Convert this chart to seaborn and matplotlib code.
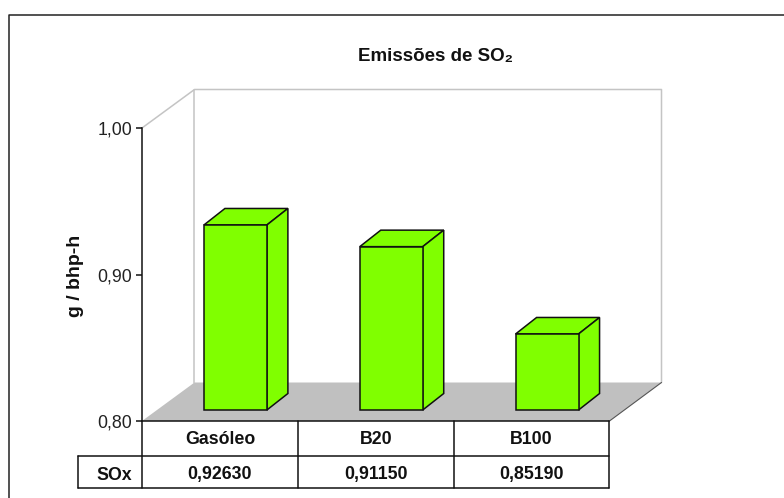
import matplotlib
matplotlib.use("Agg")
import matplotlib.pyplot as plt
from matplotlib.patches import Polygon
from matplotlib.transforms import Affine2D, IdentityTransform
import numpy as np
import pandas as pd
import seaborn as sns

categories = ["Gasóleo", "B20", "B100"]
values = [0.92630, 0.91150, 0.85190]
row_name = "SOx"
y_ticks = [0.80, 0.90, 1.00]
title = "Emissões de SO₂"
y_title = "g / bhp-h"

W, H = 784, 498
GREEN = "#80ff00"
WALL = "#c4c4c4"
INK = "#111111"
BOLD = "Liberation Sans"
TABLE_SIZE = 12.8

sns.set_theme(style="white")
plt.rcParams["font.family"] = [BOLD, "DejaVu Sans"]

fig = plt.figure(figsize=(W / 100, H / 100), dpi=100, facecolor="white")

# Pixel-space layer for the frame, back wall, floor and data table rules
canvas = fig.add_axes([0, 0, 1, 1], zorder=0)
canvas.set_xlim(0, W)
canvas.set_ylim(H, 0)
canvas.axis("off")

L, R, TOP, BASE = 142, 609.5, 128, 421
canvas.plot([9.5, 9.5, W], [H, 14.5, 14.5], color="#222222", lw=1.1)
canvas.add_patch(Polygon([(L, BASE), (194.5, 382.5), (661.5, 382.5), (R, BASE)],
                         closed=True, fc="#c0c0c0", ec="none"))
canvas.plot([L, 194.5, 661.5, 661.5], [TOP, 89.5, 89.5, 382.5], color=WALL, lw=1.1)
canvas.plot([194.5, 194.5], [89.5, 382.5], color=WALL, lw=1.1)
canvas.plot([R, 661.5], [BASE, 382.5], color="#555555", lw=0.8)

row_top, row_mid, row_bot = BASE, 455.5, 488
canvas.plot([L, R], [row_top, row_top], color=INK, lw=1.1)
canvas.plot([78, R], [row_mid, row_mid], color=INK, lw=1.1)
canvas.plot([78, R], [row_bot, row_bot], color=INK, lw=1.1)
canvas.plot([78, 78], [row_mid, row_bot], color=INK, lw=1.1)
cell = (R - L) / len(categories)
for i in range(len(categories) + 1):
    x = L + i * cell
    canvas.plot([x, x], [row_top, row_bot], color=INK, lw=1.1)

# Bars live in a data axes whose span is the front plane of the 3D box
ax = fig.add_axes([L / W, 1 - BASE / H, (R - L) / W, (BASE - TOP) / H], zorder=1)
ax.patch.set_alpha(0)
data = pd.DataFrame({"combustivel": categories, "sox": values})
sns.barplot(data=data, x="combustivel", y="sox", color=GREEN, saturation=1,
            width=0.404, edgecolor=INK, linewidth=1.1, ax=ax)
ax.set_xlim(-0.5, len(categories) - 0.5)
ax.set_ylim(min(y_ticks), max(y_ticks))
ax.set_xlabel("")
ax.set_ylabel("")

# Bars stand part-way back on the floor; the side and top faces recede further
front_dx, front_dy = 15.5, 11
depth_dx, depth_dy = 21, 16.5
shift = Affine2D().translate(front_dx, front_dy)
baseline = min(y_ticks)
for bar, value in zip(ax.patches, values):
    # The value axis starts above zero, so each bar rises from the axis floor
    bar.set_y(baseline)
    bar.set_height(value - baseline)
    bar.set_transform(ax.transData + shift)
    bar.set_clip_on(False)
    bar.set_zorder(3)
    x0, x1 = bar.get_x(), bar.get_x() + bar.get_width()
    (px0, py0), (px1, py1) = (ax.transData + shift).transform([(x0, baseline), (x1, value)])
    top_face = [(px0, py1), (px1, py1), (px1 + depth_dx, py1 + depth_dy), (px0 + depth_dx, py1 + depth_dy)]
    side_face = [(px1, py0), (px1, py1), (px1 + depth_dx, py1 + depth_dy), (px1 + depth_dx, py0 + depth_dy)]
    for face in (top_face, side_face):
        ax.add_patch(Polygon(face, closed=True, fc=GREEN, ec=INK, lw=1.1,
                             transform=IdentityTransform(), clip_on=False, zorder=2))

# Value axis on the left, comma decimals; categories sit in the table's first row
for name in ("top", "right", "bottom"):
    ax.spines[name].set_visible(False)
ax.spines["left"].set_color(INK)
ax.spines["left"].set_linewidth(1.1)
ax.set_yticks(y_ticks, [f"{v:.2f}".replace(".", ",") for v in y_ticks])
ax.tick_params(axis="y", left=True, length=4, width=1.1, color=INK, pad=3,
               labelsize=12.8, labelcolor="#222222")
ax.set_xticks(range(len(categories)), categories)
ax.tick_params(axis="x", bottom=False, pad=1, labelsize=TABLE_SIZE, labelcolor=INK)
for label in ax.get_xticklabels():
    label.set_fontweight("bold")

# Second table row holds the series values
for i, v in enumerate(values):
    canvas.text(L + (i + 0.5) * cell, 474.5, f"{v:.5f}".replace(".", ","), ha="center", va="center",
                fontsize=TABLE_SIZE, fontweight="bold", color=INK)
canvas.text(132, 475, row_name, ha="right", va="center", fontsize=TABLE_SIZE, fontweight="bold", color=INK)

canvas.text(436, 56, title, ha="center", va="center", fontsize=13.5, fontweight="bold", color=INK)
canvas.text(76, 276, y_title, rotation=90, ha="center", va="center", fontsize=14,
            fontweight="bold", color=INK)

fig.savefig("out.png", dpi=100)
